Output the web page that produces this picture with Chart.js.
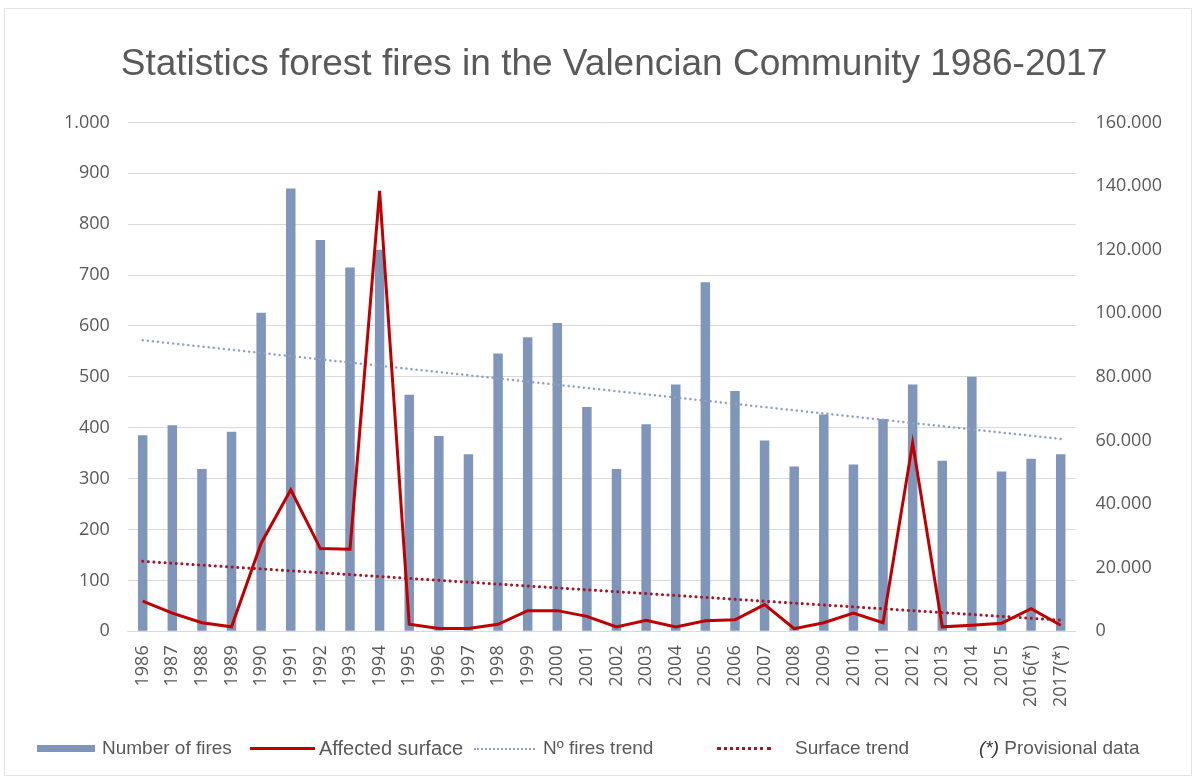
<!DOCTYPE html>
<html>
<head>
<meta charset="utf-8">
<script src="https://cdn.jsdelivr.net/npm/chart.js@4.4.1/dist/chart.umd.min.js"></script>
<style>
  html, body { margin: 0; padding: 0; background: #fff; }
  #wrap { position: relative; width: 1201px; height: 779px; overflow: hidden; }
  #frame { position: absolute; left: 4px; top: 8px; width: 1186px; height: 766px; border: 1px solid #e3e3e3; }
  #grafik { position: absolute; left: 0; top: 0; }
  .leg { position: absolute; top: 736px; height: 24px; font-family: "Liberation Sans", Arial, sans-serif;
         font-size: 19px; color: #595959; line-height: 24px; white-space: nowrap; }
  .mark { position: absolute; }
</style>
</head>
<body>
<div id="wrap">
  <div id="frame"></div>
  <canvas id="grafik" width="1201" height="779"></canvas>

  <div class="mark" style="left:37px; top:745px; width:58px; height:7px; background:#7f96ba;"></div>
  <div class="leg" style="left:102px;">Number of fires</div>

  <div class="mark" style="left:250px; top:747px; width:65px; height:0; border-top:3px solid #c00000;"></div>
  <div class="leg" style="left:319px; font-size:20px;">Affected surface</div>

  <div class="mark" style="left:474px; top:748px; width:61px; height:0; border-top:2px dotted #8ea2c2;"></div>
  <div class="leg" style="left:543px;">Nº fires trend</div>

  <div class="mark" style="left:717px; top:747px; width:54px; height:0; border-top:3px dotted #b01020;"></div>
  <div class="leg" style="left:795px;">Surface trend</div>

  <div class="leg" style="left:979px;"><i style="color:#333;">(*)</i> Provisional data</div>
</div>

<script>
// etiketler (yıllar)
const years = ['1986', '1987', '1988', '1989', '1990', '1991', '1992', '1993', '1994', '1995',
    '1996', '1997', '1998', '1999', '2000', '2001', '2002', '2003', '2004', '2005',
    '2006', '2007', '2008', '2009', '2010', '2011', '2012', '2013', '2014', '2015',
    '2016(*)', '2017(*)'];

// yangın sayısı (sol eksen)
const fireCount = [385, 405, 319, 392, 626, 870, 769, 715, 750, 465,
    384, 348, 546, 578, 606, 441, 319, 407, 485, 686,
    472, 375, 324, 426, 328, 417, 485, 335, 500, 314,
    339, 348];

// etkilenen alan (sağ eksen)
const affectedSurface = [9500, 5700, 2700, 1400, 27700, 44500, 26000, 25800, 138500, 2200,
    900, 900, 2200, 6500, 6500, 4700, 1400, 3500, 1400, 3300,
    3600, 8400, 800, 2700, 5700, 2700, 59200, 1400, 1900, 2500,
    7100, 1900];

// trend çizgilerinin uç değerleri (ilk yıl, son yıl)
const firesTrendEnds = [572, 378];
const surfaceTrendEnds = [22000, 3500];

// eksen sınırları
const leftAxis = { max: 1000, step: 100 };
const rightAxis = { max: 160000, step: 20000 };

function endsOnly(ends) {
    const arr = years.map(() => null);
    arr[0] = ends[0];
    arr[arr.length - 1] = ends[1];
    return arr;
}

function binlik(v) {
    return String(v).replace(/\B(?=(\d{3})+(?!\d))/g, '.');
}

Chart.defaults.font.family = '"Open Sans", sans-serif';
Chart.defaults.color = '#595959';

const ctx = document.getElementById('grafik').getContext('2d');
new Chart(ctx, {
    type: 'bar',
    data: {
        labels: years,
        datasets: [
            {
                type: 'line',
                label: 'Affected surface',
                data: affectedSurface,
                yAxisID: 'y1',
                borderColor: '#c00000',
                borderWidth: 3,
                pointRadius: 0,
                tension: 0,
                order: 1
            },
            {
                type: 'line',
                label: 'Nº fires trend',
                data: endsOnly(firesTrendEnds),
                yAxisID: 'y',
                borderColor: '#8ea2c2',
                borderWidth: 2.5,
                borderDash: [0.1, 5],
                borderCapStyle: 'round',
                spanGaps: true,
                pointRadius: 0,
                order: 2
            },
            {
                type: 'line',
                label: 'Surface trend',
                data: endsOnly(surfaceTrendEnds),
                yAxisID: 'y1',
                borderColor: '#a81424',
                borderWidth: 3,
                borderDash: [0.1, 5.5],
                borderCapStyle: 'round',
                spanGaps: true,
                pointRadius: 0,
                order: 3
            },
            {
                label: 'Number of fires',
                data: fireCount,
                yAxisID: 'y',
                backgroundColor: '#7f96ba',
                barPercentage: 0.32,
                categoryPercentage: 1,
                order: 10
            }
        ]
    },
    options: {
        responsive: false,
        animation: false,
        layout: { padding: { top: 43, left: 46, right: 19, bottom: 66 } },
        plugins: {
            legend: { display: false },
            tooltip: { enabled: false },
            title: {
                display: true,
                text: 'Statistics forest fires in the Valencian Community 1986-2017',
                color: '#595959',
                font: { family: '"Liberation Sans", Arial, sans-serif', size: 37, weight: 'normal' },
                padding: { top: 0, bottom: 35 }
            }
        },
        scales: {
            x: {
                grid: { display: false },
                border: { color: '#d9d9d9' },
                ticks: {
                    minRotation: 90, maxRotation: 90, autoSkip: false,
                    padding: 6,
                    font: { size: 18 }
                }
            },
            y: {
                position: 'left',
                min: 0, max: leftAxis.max,
                grid: { color: '#d9d9d9', drawTicks: false },
                border: { display: false },
                ticks: {
                    stepSize: leftAxis.step, padding: 18,
                    font: { size: 18 },
                    callback: v => binlik(v)
                }
            },
            y1: {
                position: 'right',
                min: 0, max: rightAxis.max,
                grid: { drawOnChartArea: false, drawTicks: false },
                border: { display: false },
                ticks: {
                    stepSize: rightAxis.step, padding: 20,
                    font: { size: 18 },
                    callback: v => binlik(v)
                }
            }
        }
    }
});
</script>
</body>
</html>
